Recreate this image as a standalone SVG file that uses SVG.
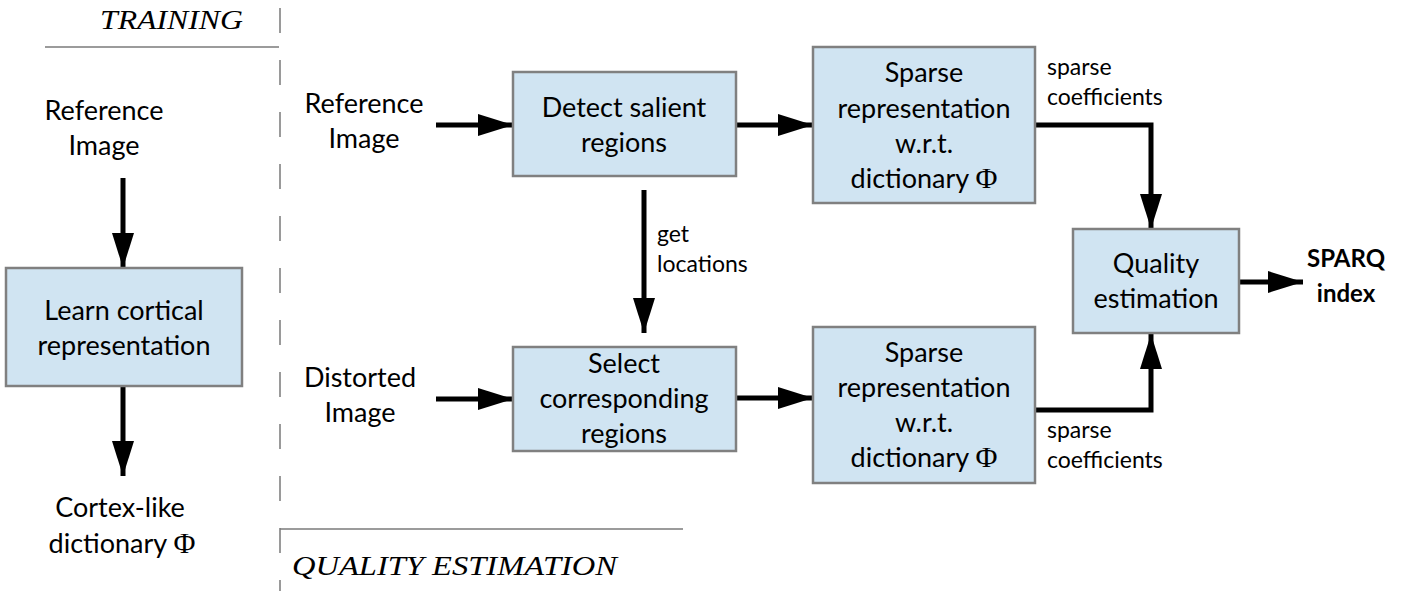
<svg xmlns="http://www.w3.org/2000/svg" width="1403" height="591" viewBox="0 0 1403 591">
  <style>
    .box { fill: #d0e4f2; stroke: #808080; stroke-width: 2.5; }
    .lbl { font-family: Lato, "Liberation Sans", sans-serif; font-size: 27px; fill: #000; text-anchor: middle; }
    .sm { font-family: Lato, "Liberation Sans", sans-serif; font-size: 23px; fill: #000; }
    .bold { font-family: Lato, "Liberation Sans", sans-serif; font-size: 24px; font-weight: bold; fill: #000; text-anchor: middle; }
    .phi { font-family: "Liberation Serif", serif; font-size: 30px; }
    .sec { font-family: "Liberation Serif", serif; font-style: italic; font-size: 28px; fill: #000; }
    .wire { fill: none; stroke: #000; stroke-width: 5; }
    .rule { fill: none; stroke: #7a7a7a; stroke-width: 1.5; }
  </style>
  <defs>
    <marker id="head" markerUnits="userSpaceOnUse" markerWidth="36" markerHeight="24" refX="35" refY="11" orient="auto">
      <path d="M0,0 L35,11 L0,22 Z" fill="#000"/>
    </marker>
  </defs>

  <!-- section separators -->
  <g id="sections">
    <line class="rule" x1="280" y1="8" x2="280" y2="591" stroke-dasharray="25 27"/>
    <line class="rule" x1="45" y1="47" x2="279" y2="47" stroke="#333"/>
    <line class="rule" x1="280" y1="529" x2="683" y2="529"/>
    <text class="sec" x="100" y="29" textLength="143" lengthAdjust="spacingAndGlyphs">TRAINING</text>
    <text class="sec" x="292" y="575" textLength="325" lengthAdjust="spacingAndGlyphs">QUALITY ESTIMATION</text>
  </g>

  <!-- connectors -->
  <g id="connectors">
    <line class="wire" x1="123" y1="178" x2="123" y2="268" marker-end="url(#head)"/>
    <line class="wire" x1="123" y1="387" x2="123" y2="476" marker-end="url(#head)"/>
    <line class="wire" x1="436" y1="125" x2="513" y2="125" marker-end="url(#head)"/>
    <line class="wire" x1="736" y1="125" x2="813" y2="125" marker-end="url(#head)"/>
    <line class="wire" x1="436" y1="399" x2="513" y2="399" marker-end="url(#head)"/>
    <line class="wire" x1="736" y1="398" x2="813" y2="398" marker-end="url(#head)"/>
    <line class="wire" x1="644" y1="190" x2="644" y2="333" marker-end="url(#head)"/>
    <polyline class="wire" points="1035,125 1151,125 1151,229" marker-end="url(#head)"/>
    <polyline class="wire" points="1035,410 1151,410 1151,334" marker-end="url(#head)"/>
    <line class="wire" x1="1239" y1="282" x2="1303" y2="282" marker-end="url(#head)"/>
    <text class="sm" x="657" y="242">get</text>
    <text class="sm" x="657" y="272">locations</text>
    <text class="sm" x="1047" y="75">sparse</text>
    <text class="sm" x="1047" y="105">coefficients</text>
    <text class="sm" x="1047" y="438">sparse</text>
    <text class="sm" x="1047" y="468">coefficients</text>
  </g>

  <!-- training branch -->
  <g id="train-input">
    <text class="lbl" x="104" y="120">Reference</text>
    <text class="lbl" x="104" y="155">Image</text>
  </g>
  <g id="learn">
    <rect class="box" x="6" y="268" width="236" height="118"/>
    <text class="lbl" x="124" y="320">Learn cortical</text>
    <text class="lbl" x="124" y="355">representation</text>
  </g>
  <g id="dictionary">
    <text class="lbl" x="120" y="517">Cortex-like</text>
    <text class="lbl" x="122" y="553">dictionary  <tspan class="phi">Φ</tspan></text>
  </g>

  <!-- quality estimation branch -->
  <g id="ref-input">
    <text class="lbl" x="364" y="113">Reference</text>
    <text class="lbl" x="364" y="148">Image</text>
  </g>
  <g id="dist-input">
    <text class="lbl" x="360" y="387">Distorted</text>
    <text class="lbl" x="360" y="422">Image</text>
  </g>
  <g id="detect">
    <rect class="box" x="513" y="72" width="223" height="104"/>
    <text class="lbl" x="624" y="117">Detect salient</text>
    <text class="lbl" x="624" y="152">regions</text>
  </g>
  <g id="select">
    <rect class="box" x="513" y="347" width="223" height="104"/>
    <text class="lbl" x="624" y="373">Select</text>
    <text class="lbl" x="624" y="408">corresponding</text>
    <text class="lbl" x="624" y="443">regions</text>
  </g>
  <g id="sparse-ref">
    <rect class="box" x="813" y="47" width="222" height="156"/>
    <text class="lbl" x="924" y="82">Sparse</text>
    <text class="lbl" x="924" y="118">representation</text>
    <text class="lbl" x="924" y="153">w.r.t.</text>
    <text class="lbl" x="924" y="188">dictionary <tspan class="phi">Φ</tspan></text>
  </g>
  <g id="sparse-dist">
    <rect class="box" x="813" y="327" width="222" height="156"/>
    <text class="lbl" x="924" y="362">Sparse</text>
    <text class="lbl" x="924" y="397">representation</text>
    <text class="lbl" x="924" y="432">w.r.t.</text>
    <text class="lbl" x="924" y="467">dictionary <tspan class="phi">Φ</tspan></text>
  </g>
  <g id="quality">
    <rect class="box" x="1073" y="229" width="166" height="104"/>
    <text class="lbl" x="1156" y="273">Quality</text>
    <text class="lbl" x="1156" y="308">estimation</text>
  </g>
  <g id="sparq">
    <text class="bold" x="1346" y="267">SPARQ</text>
    <text class="bold" x="1346" y="302">index</text>
  </g>
</svg>
